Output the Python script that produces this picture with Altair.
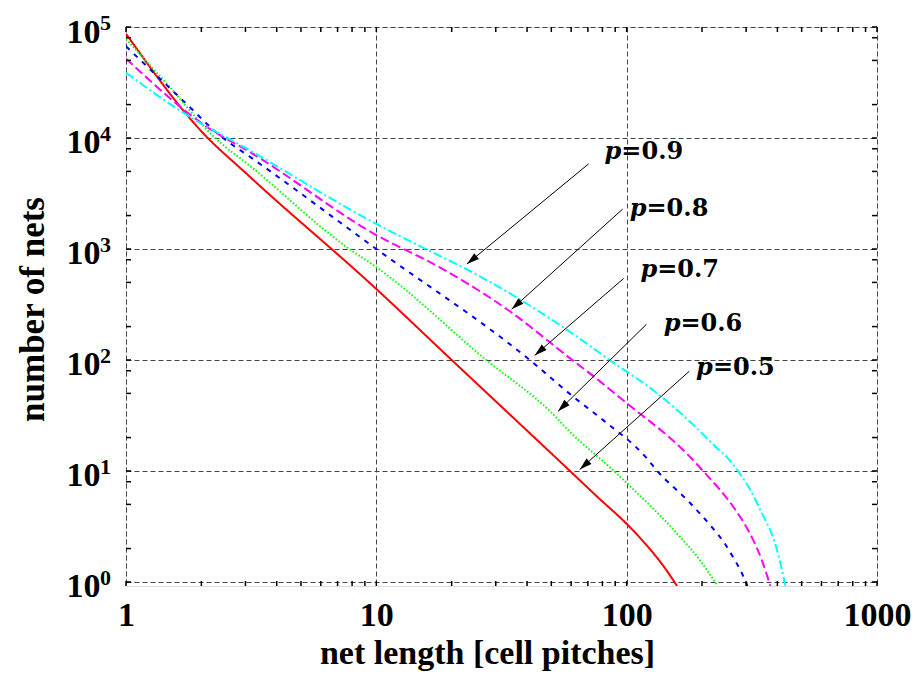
import math
import altair as alt
import pandas as pd

# ---------------- data ----------------
P_LABELS = ["p=0.5", "p=0.6", "p=0.7", "p=0.8", "p=0.9"]
COLORS = ["#ff0000", "#00ff00", "#0000ff", "#ff00ff", "#00ffff"]
DASHES = [[1, 0], [1.5, 2], [5, 6], [9, 4], [9, 3, 2, 3]]

red_x = [1, 2, 3.13, 10, 20, 55.6, 78, 100, 120, 140, 159]
red_y = [87000, 11500, 4460, 436, 100, 11.5, 5.6, 3.34, 2.15, 1.40, 0.92]

green_x = [1, 1.5, 2.27, 3.13, 7.8, 10, 27.5, 50, 59, 89, 100, 158, 195, 231]
green_y = [78000, 28500, 10000, 5600, 1000, 686, 100, 33.6, 22.8, 10, 7.8, 2.77, 1.60, 0.92]

blue_x = [1, 1.69, 2.44, 3.13, 10, 41, 60.8, 81.7, 120, 131.5, 180, 220, 245, 265, 285, 304]
blue_y = [67000, 21700, 10000, 6760, 1000, 100, 47.2, 28, 13.1, 10.2, 5.1, 3.08, 2.27, 1.70,
          1.27, 0.92]

magenta_x = [1, 2.16, 3.13, 10, 18, 35, 57.4, 78, 96, 178, 202, 266, 295, 319, 345, 375]
magenta_y = [51900, 12100, 7460, 1336, 680, 264, 110, 64.5, 44, 13.6, 10, 4.79, 3.37, 2.43,
             1.62, 0.92]

cyan_x = [1, 1.64, 3.13, 10, 17.9, 22.9, 57.4, 85.5, 131.5, 180, 230, 254, 282, 310, 350,
          380, 396, 415, 431]
cyan_y = [38800, 17700, 7710, 1680, 868, 658, 189, 100, 50.7, 27.5, 16, 13, 9.6, 6.9, 4.0,
          2.7, 2.05, 1.35, 0.92]

# annotation arrows (tail -> head) and label anchors (start of "=")
arrow_x1 = [178, 120, 97.2, 96.4, 70.5]
arrow_y1 = [79.3, 210, 542, 2290, 5850]
arrow_x2 = [64.9, 53.2, 42.9, 34.7, 23]
arrow_y2 = [10.3, 34.5, 110, 286, 731]
label_x = [221, 164, 132.4, 120, 95.2]
label_y = [74, 183, 557, 1970, 6490]
label_rest = ["=0.5", "=0.6", "=0.7", "=0.8", "=0.9"]

x_major = [1, 10, 100, 1000]
y_major = [1, 10, 100, 1000, 10000, 100000]
y_exponents = ["0", "1", "2", "3", "4", "5"]
x_minor_mult = [2, 3, 4, 5, 6, 7, 8, 9]
y_minor_mult = [2, 5, 8]

# ---------------- layout ----------------
W, H = 751, 559
X_DOM = [1, 1000]
Y_DOM = [0.92, 100000]
SERIF = "Liberation Serif"

series = [red_x, green_x, blue_x, magenta_x, cyan_x]
series_y = [red_y, green_y, blue_y, magenta_y, cyan_y]
rows = []
for lab, xs_, ys_ in zip(P_LABELS, series, series_y):
    for i, (xv, yv) in enumerate(zip(xs_, ys_)):
        rows.append({"p": lab, "x": xv, "y": yv, "i": i})
df_lines = pd.DataFrame(rows)

pxx = W / (math.log10(X_DOM[1]) - math.log10(X_DOM[0]))
pxy = H / (math.log10(Y_DOM[1]) - math.log10(Y_DOM[0]))
angles = []
for x1, y1, x2, y2 in zip(arrow_x1, arrow_y1, arrow_x2, arrow_y2):
    dx = (math.log10(x2) - math.log10(x1)) * pxx
    dy = -(math.log10(y2) - math.log10(y1)) * pxy
    angles.append(math.degrees(math.atan2(dx, -dy)) % 360)

df_arrows = pd.DataFrame({
    "x1": arrow_x1, "y1": arrow_y1, "x2": arrow_x2, "y2": arrow_y2,
    "ang": angles, "lx": label_x, "ly": label_y,
    "pl": ["p"] * 5, "rest": label_rest,
})

x_minor = [m * d for d in x_major[:-1] for m in x_minor_mult]
y_minor = [m * d for d in y_major[:-1] for m in y_minor_mult]
df_xt = pd.DataFrame({"v": x_major + x_minor})
df_yt = pd.DataFrame({"v": y_major + y_minor})
df_exp = pd.DataFrame({"v": y_major, "e": y_exponents})

xs = alt.Scale(type="log", domain=X_DOM, nice=False)
ys = alt.Scale(type="log", domain=Y_DOM, nice=False)

x_axis = alt.Axis(
    values=x_major, format="d", title="net length [cell pitches]",
    grid=True, gridDash=[5, 3], gridColor="#444", gridWidth=1, gridOpacity=1,
    ticks=False, tickSize=0, domain=False,
    labelFont=SERIF, labelFontWeight="bold", labelFontSize=34, labelColor="black",
    labelPadding=12, labelFlush=False,
    titleFont=SERIF, titleFontWeight="bold", titleFontSize=34, titleColor="black",
    titleX=361, titleY=77, titleBaseline="alphabetic", titleAlign="center")
y_axis = alt.Axis(
    values=y_major, labelExpr="'10'", title="number of nets",
    grid=True, gridDash=[5, 3], gridColor="#444", gridWidth=1, gridOpacity=1,
    ticks=False, tickSize=0, domain=False,
    labelFont=SERIF, labelFontWeight="bold", labelFontSize=34, labelColor="black",
    labelPadding=26, labelFlush=False, labelAlign="right", labelBaseline="alphabetic",
    labelOffset=15,
    titleFont=SERIF, titleFontWeight="bold", titleFontSize=35, titleColor="black",
    titleX=-83, titleY=282, titleAngle=-90, titleBaseline="alphabetic",
    titleAlign="center")


def X(field):
    return alt.X(field, scale=xs, axis=x_axis, title="net length [cell pitches]")


def Y(field):
    return alt.Y(field, scale=ys, axis=y_axis, title="number of nets")


lines = alt.Chart(df_lines).mark_line(strokeWidth=2, clip=True,
                                      interpolate="monotone").encode(
    x=X("x:Q"),
    y=Y("y:Q"),
    color=alt.Color("p:N", scale=alt.Scale(domain=P_LABELS, range=COLORS), legend=None),
    strokeDash=alt.StrokeDash("p:N", scale=alt.Scale(domain=P_LABELS, range=DASHES),
                              legend=None),
    detail="p:N",
    order="i:Q",
)

tick_bottom = alt.Chart(df_xt).mark_rule(color="black", strokeWidth=1.5).encode(
    x=X("v:Q"), y=alt.value(H), y2=alt.value(H - 5))
tick_top = alt.Chart(df_xt).mark_rule(color="black", strokeWidth=1.5).encode(
    x=X("v:Q"), y=alt.value(0), y2=alt.value(5))
tick_left = alt.Chart(df_yt).mark_rule(color="black", strokeWidth=1.5).encode(
    y=Y("v:Q"), x=alt.value(0), x2=alt.value(5))
tick_right = alt.Chart(df_yt).mark_rule(color="black", strokeWidth=1.5).encode(
    y=Y("v:Q"), x=alt.value(W), x2=alt.value(W - 5))

exp_text = alt.Chart(df_exp).mark_text(
    align="left", baseline="alphabetic", font=SERIF, fontWeight="bold", fontSize=22,
    color="black", dy=3).encode(
    y=Y("v:Q"), x=alt.value(-26), text="e:N")

arrow_lines = alt.Chart(df_arrows).mark_rule(color="black", strokeWidth=1).encode(
    x=X("x1:Q"), y=Y("y1:Q"), x2="x2:Q", y2="y2:Q")
arrow_heads = alt.Chart(df_arrows).mark_point(
    shape="M0,0 L-0.65,2.2 L0.65,2.2 Z", filled=True, size=130, color="black",
    opacity=1, strokeWidth=0).encode(
    x=X("x2:Q"), y=Y("y2:Q"), angle=alt.Angle("ang:Q", scale=None))
label_p = alt.Chart(df_arrows).mark_text(
    align="right", baseline="alphabetic", font="DejaVu Serif", fontStyle="italic",
    fontWeight="bold", fontSize=24, color="black").encode(
    x=X("lx:Q"), y=Y("ly:Q"), text="pl:N")
label_rest_t = alt.Chart(df_arrows).mark_text(
    align="left", baseline="alphabetic", font="DejaVu Serif",
    fontWeight="bold", fontSize=24, color="black").encode(
    x=X("lx:Q"), y=Y("ly:Q"), text="rest:N")

chart = alt.layer(
    lines, tick_bottom, tick_top, tick_left, tick_right, exp_text,
    arrow_lines, arrow_heads, label_p, label_rest_t,
).properties(
    width=W, height=H,
    autosize=alt.AutoSizeParams(type="none"),
    padding={"left": 118, "top": 19, "right": 36, "bottom": 87},
).configure_view(stroke="black", strokeWidth=2).configure(background="white")

chart.save("out.html", embed_options={"renderer": "svg", "actions": False})
